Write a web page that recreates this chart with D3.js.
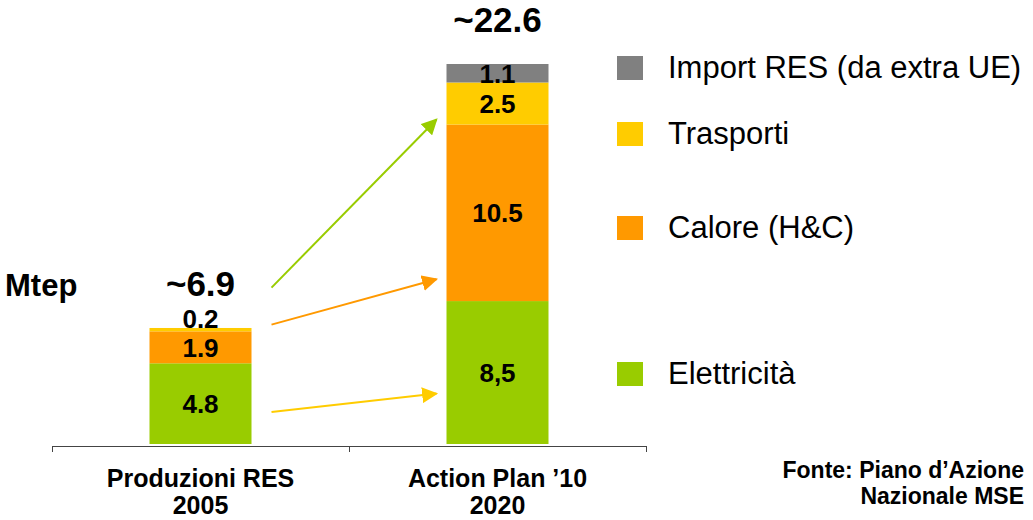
<!DOCTYPE html>
<html>
<head>
  <meta charset="utf-8">
  <script src="https://cdn.jsdelivr.net/npm/d3@7/dist/d3.min.js"></script>
  <style>
    body { margin: 0; background: #fff; }
    text { font-family: Arial, "Liberation Sans", sans-serif; fill: #000; }
  </style>
</head>
<body>
<svg id="chart" width="1033" height="520"></svg>
<script>
  // data (Mtep)
  var categories = ["Produzioni RES|2005", "Action Plan ’10|2020"];
  var totals = ["~6.9", "~22.6"];
  var series = ["Elettricità", "Calore (H&C)", "Trasporti", "Import RES (da extra UE)"];
  var elettricita = [4.8, 8.5];
  var calore = [1.9, 10.5];
  var trasporti = [0.2, 2.5];
  var importRes = [0, 1.1];
  var valueLabels = [["4.8", "1.9", "0.2", ""], ["8,5", "10.5", "2.5", "1.1"]];
  var colors = ["#99CC00", "#FF9900", "#FFCC00", "#808080"];
  // arrows between bars: [from, to] in Mtep, colour
  var arrows = [
    { from: 9.3, to: 19.3, color: "#99CC00" },
    { from: 7.1, to: 9.8, color: "#FF9900" },
    { from: 1.9, to: 3.0, color: "#FFCC00" }
  ];

  var svg = d3.select("#chart");

  var table = categories.map((c, i) => ({
    cat: c, i: i,
    s0: elettricita[i], s1: calore[i], s2: trasporti[i], s3: importRes[i]
  }));

  var stack = d3.stack().keys(["s0", "s1", "s2", "s3"]);
  var layers = stack(table);

  var x = d3.scaleBand()
    .domain(categories)
    .range([52, 646])
    .padding(0);

  var barW = 102;

  var y = d3.scaleLinear()
    .domain([0, d3.sum([elettricita[1], calore[1], trasporti[1], importRes[1]])])
    .range([444, 64]);

  var barX = c => x(c) + x.bandwidth() / 2 - barW / 2;

  // bars
  svg.append("g")
    .selectAll("g")
    .data(layers)
    .enter()
    .append("g")
    .attr("fill", (d, i) => colors[i])
    .selectAll("rect")
    .data(d => d)
    .enter()
    .append("rect")
    .attr("x", d => barX(d.data.cat))
    .attr("y", d => y(d[1]))
    .attr("width", barW)
    .attr("height", d => y(d[0]) - y(d[1]));

  // value labels (pushed up if they would collide)
  table.forEach((row, i) => {
    var prev = 1e9;
    layers.forEach((layer, k) => {
      var d = layer[i];
      if (d[1] - d[0] <= 0) return;
      var cy = Math.min((y(d[0]) + y(d[1])) / 2, prev - 29);
      prev = cy;
      svg.append("text")
        .attr("x", x(row.cat) + x.bandwidth() / 2)
        .attr("y", cy)
        .attr("dy", "0.36em")
        .attr("text-anchor", "middle")
        .style("font-weight", "bold")
        .style("font-size", "26px")
        .text(valueLabels[i][k]);
    });
  });

  // totals
  var topOf = i => y(d3.max(layers, l => l[i][1]));
  table.forEach((row, i) => {
    svg.append("text")
      .attr("x", x(row.cat) + x.bandwidth() / 2)
      .attr("y", topOf(i) - 32)
      .attr("text-anchor", "middle")
      .style("font-weight", "bold")
      .style("font-size", "35px")
      .text(totals[i]);
  });

  svg.append("text")
    .attr("x", 5)
    .attr("y", topOf(0) - 32)
    .style("font-weight", "bold")
    .style("font-size", "31px")
    .text("Mtep");

  // x axis with ticks at band edges
  var edges = d3.scaleLinear().domain([0, categories.length]).range(x.range());
  var axis = svg.append("g")
    .attr("transform", "translate(0,446)")
    .call(d3.axisBottom(edges).tickValues(d3.range(categories.length + 1)).tickSize(6).tickSizeOuter(0).tickFormat(""));
  axis.selectAll("path, line").attr("stroke", "#444");

  table.forEach(row => {
    row.cat.split("|").forEach((line, j) => {
      svg.append("text")
        .attr("text-anchor", "middle")
        .style("font-weight", "bold")
        .style("font-size", "25px")
        .attr("x", x(row.cat) + x.bandwidth() / 2)
        .attr("y", 487 + j * 27)
        .text(line);
    });
  });

  // arrows
  var defs = svg.append("defs");
  arrows.forEach((a, i) => {
    defs.append("marker")
      .attr("id", "arr" + i)
      .attr("viewBox", "0 0 10 10")
      .attr("refX", 9).attr("refY", 5)
      .attr("markerWidth", 16).attr("markerHeight", 16)
      .attr("markerUnits", "userSpaceOnUse")
      .attr("orient", "auto")
      .append("path")
      .attr("d", "M0,0L10,5L0,10z")
      .attr("fill", a.color);
    svg.append("line")
      .attr("x1", barX(categories[0]) + barW + 20)
      .attr("y1", y(a.from))
      .attr("x2", barX(categories[1]) - 10)
      .attr("y2", y(a.to))
      .attr("stroke", a.color)
      .attr("stroke-width", 2)
      .attr("marker-end", "url(#arr" + i + ")");
  });

  // legend (top to bottom)
  var legendY = [374, 228, 134, 68];
  series.forEach((s, i) => {
    svg.append("rect")
      .attr("x", 617).attr("y", legendY[i] - 12)
      .attr("width", 26).attr("height", 24)
      .attr("fill", colors[i]);
    svg.append("text")
      .attr("x", 668).attr("y", legendY[i] + 10)
      .style("font-size", "31px")
      .text(s);
  });

  // source
  var src = svg.append("text")
    .attr("text-anchor", "end")
    .style("font-weight", "bold")
    .style("font-size", "23px");
  ["Fonte: Piano d’Azione", "Nazionale MSE"].forEach((line, j) => {
    src.append("tspan").attr("x", 1024).attr("y", 478 + j * 26).text(line);
  });
</script>
</body>
</html>
